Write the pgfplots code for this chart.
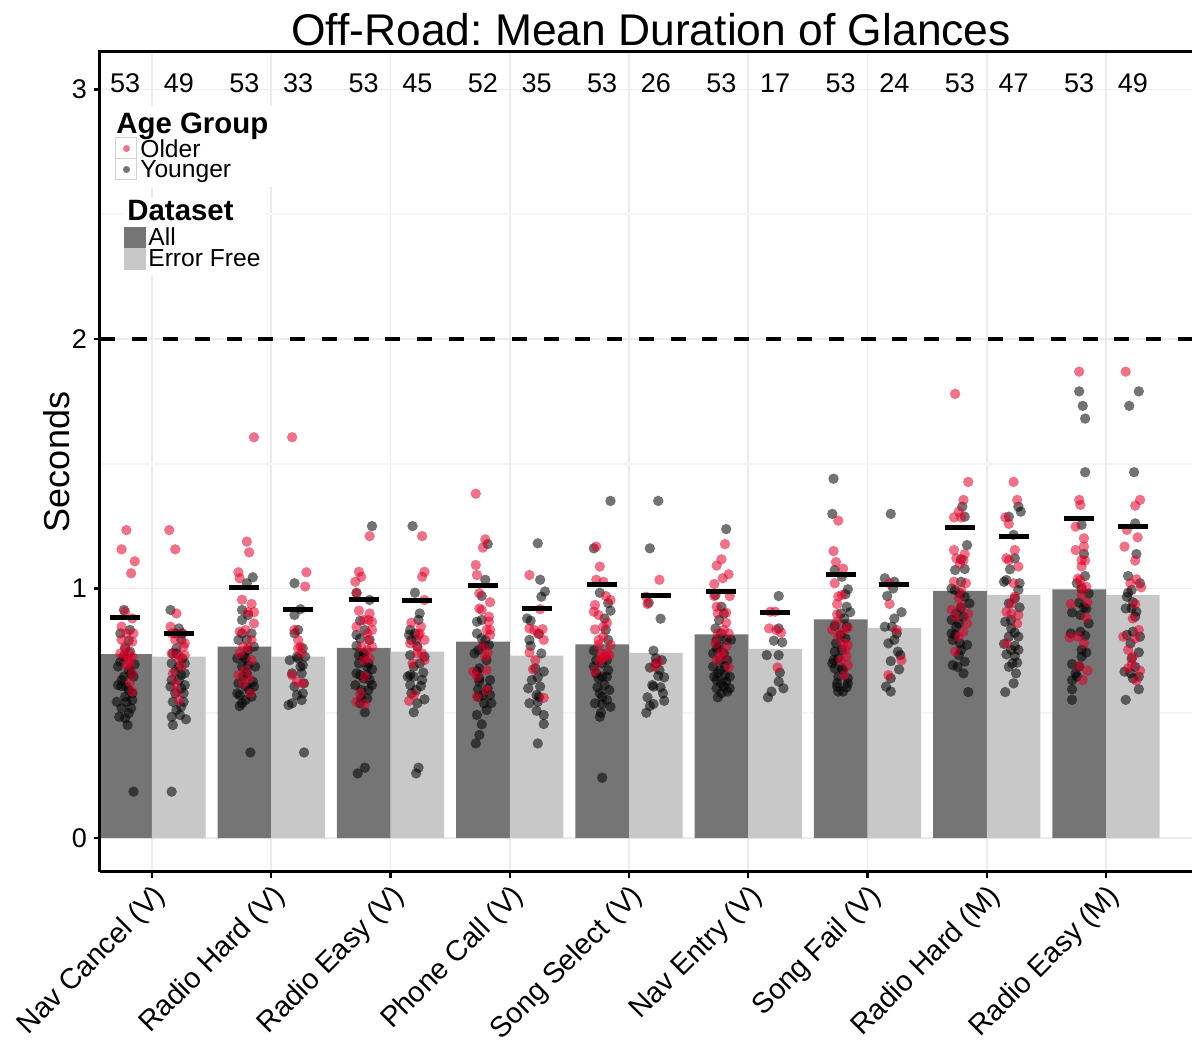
\documentclass[border=0pt]{standalone}
\usepackage{fontspec}
\setmainfont{Liberation Sans}
\usepackage{pgfplots}
\pgfplotsset{compat=1.18}
\definecolor{allbar}{HTML}{757575}
\definecolor{efbar}{HTML}{C8C8C8}
\definecolor{older}{RGB}{224,0,40}
\definecolor{gridmaj}{HTML}{EBEBEB}
\definecolor{gridmin}{HTML}{F5F5F5}
\frenchspacing
\begin{document}
\begin{tikzpicture}
\begin{axis}[
 name=ax, scale only axis, width=546pt, height=410pt,
 xmin=-0.436, xmax=8.721, ymin=-0.136, ymax=3.15,
 axis x line*=bottom, axis y line*=left,
 axis line style={line width=1.5pt,-},
 xtick={0,1,2,3,4,5,6,7,8},
 xticklabels={Nav Cancel (V),Radio Hard (V),Radio Easy (V),Phone Call (V),Song Select (V),Nav Entry (V),Song Fail (V),Radio Hard (M),Radio Easy (M)},
 ytick={0,1,2,3}, minor ytick={0.5,1.5,2.5},
 grid=both, major grid style={gridmaj,line width=0.8pt}, minor grid style={gridmin,line width=0.8pt},
 tick align=outside, major tick length=3pt, minor tick length=0pt,
 tick style={line width=1.2pt, black},
 /pgf/number format/assume math mode=true,
 yticklabel style={font=\fontsize{13.5}{16}\selectfont},
 xticklabel style={font=\fontsize{14.4}{17}\selectfont, rotate=45, anchor=north east, inner sep=1.5pt},
]
% bars
\addplot[ybar, bar width=0.45, bar shift=-0.225, fill=allbar, draw=none] coordinates {
(0,0.737) (1,0.767) (2,0.762) (3,0.787) (4,0.776) (5,0.816) (6,0.876) (7,0.991) (8,0.997)};
\addplot[ybar, bar width=0.45, bar shift=0.225, fill=efbar, draw=none] coordinates {
(0,0.727) (1,0.727) (2,0.747) (3,0.731) (4,0.741) (5,0.758) (6,0.842) (7,0.975) (8,0.975)};
% younger points
\addplot[only marks, draw=none, mark=*, mark size=2.6pt, mark options={fill=black, draw=black, draw opacity=0, fill opacity=0.55, line width=0pt}] coordinates {
(-0.235,0.914) (-0.195,0.791) (-0.185,0.747) (-0.265,0.707) (-0.145,0.696) (-0.175,0.660) (-0.285,0.613) (-0.255,0.609) (-0.195,0.593) (-0.225,0.566) (-0.165,0.553) (-0.215,0.546) (-0.255,0.520) (-0.175,0.520) (-0.275,0.486) (-0.225,0.480) (-0.205,0.453) (-0.155,0.186) (-0.265,0.82) (-0.225,0.76) (-0.195,0.673) (-0.235,0.647) (-0.255,0.633) (-0.215,0.607) (-0.165,0.58) (-0.235,0.727) (-0.285,0.687) (-0.195,0.5) (-0.295,0.546) (-0.155,0.647) (-0.185,0.834)
(0.155,0.914) (0.225,0.84) (0.245,0.794) (0.205,0.76) (0.165,0.70) (0.255,0.72) (0.225,0.687) (0.245,0.653) (0.165,0.633) (0.155,0.607) (0.275,0.613) (0.265,0.58) (0.195,0.58) (0.175,0.546) (0.265,0.546) (0.245,0.526) (0.205,0.513) (0.165,0.486) (0.285,0.476) (0.175,0.453) (0.165,0.186) (0.205,0.74) (0.275,0.66) (0.195,0.82) (0.255,0.82) (0.225,0.633) (0.175,0.74) (0.275,0.70) (0.195,0.667) (0.235,0.493) (0.245,0.6)
(0.845,1.045) (0.795,1.021) (0.755,0.914) (0.805,0.894) (0.755,0.82) (0.855,0.767) (0.805,0.753) (0.715,0.72) (0.785,0.72) (0.755,0.687) (0.805,0.693) (0.795,0.66) (0.725,0.62) (0.845,0.627) (0.785,0.607) (0.735,0.573) (0.835,0.566) (0.755,0.54) (0.785,0.553) (0.735,0.529) (0.825,0.343) (0.765,0.727) (0.835,0.82) (0.795,0.794) (0.725,0.794) (0.865,0.687) (0.765,0.647) (0.815,0.593) (0.715,0.58) (0.855,0.607) (0.755,0.874)
(1.195,1.021) (1.245,0.917) (1.195,0.894) (1.195,0.82) (1.265,0.76) (1.225,0.72) (1.265,0.693) (1.215,0.727) (1.245,0.687) (1.175,0.66) (1.255,0.66) (1.275,0.62) (1.215,0.573) (1.265,0.58) (1.145,0.533) (1.175,0.54) (1.275,0.343) (1.225,0.834) (1.155,0.713) (1.285,0.727) (1.195,0.607) (1.255,0.553)
(1.845,1.25) (1.715,0.983) (1.825,0.954) (1.745,0.871) (1.785,0.834) (1.715,0.814) (1.745,0.80) (1.825,0.794) (1.715,0.77) (1.735,0.733) (1.775,0.727) (1.805,0.687) (1.845,0.676) (1.745,0.653) (1.805,0.653) (1.775,0.64) (1.705,0.613) (1.845,0.613) (1.755,0.56) (1.805,0.56) (1.785,0.504) (1.725,0.259) (1.785,0.282) (1.775,0.74) (1.815,0.70) (1.735,0.70) (1.825,0.633) (1.715,0.66) (1.755,0.593) (1.815,0.593) (1.745,0.54)
(2.185,1.25) (2.205,0.983) (2.235,0.874) (2.165,0.834) (2.205,0.82) (2.155,0.814) (2.215,0.794) (2.175,0.794) (2.225,0.767) (2.165,0.733) (2.285,0.727) (2.195,0.687) (2.275,0.663) (2.165,0.653) (2.145,0.647) (2.195,0.647) (2.255,0.609) (2.165,0.613) (2.285,0.556) (2.195,0.504) (2.235,0.282) (2.215,0.259) (2.245,0.70) (2.265,0.633) (2.215,0.593) (2.245,0.90) (2.175,0.58) (2.225,0.54)
(2.815,1.178) (2.795,1.035) (2.765,0.97) (2.725,0.867) (2.765,0.874) (2.725,0.82) (2.765,0.80) (2.775,0.767) (2.825,0.774) (2.745,0.68) (2.725,0.667) (2.745,0.64) (2.735,0.596) (2.815,0.60) (2.835,0.573) (2.775,0.573) (2.735,0.566) (2.845,0.54) (2.805,0.513) (2.725,0.493) (2.765,0.456) (2.745,0.413) (2.715,0.379) (2.795,0.794) (2.805,0.713) (2.705,0.74) (2.835,0.633) (2.745,0.627) (2.785,0.54) (2.735,0.753)
(3.235,1.181) (3.255,1.035) (3.295,0.988) (3.265,0.967) (3.145,0.88) (3.175,0.871) (3.245,0.818) (3.165,0.794) (3.175,0.77) (3.215,0.68) (3.285,0.667) (3.235,0.644) (3.155,0.60) (3.225,0.573) (3.245,0.566) (3.165,0.54) (3.235,0.546) (3.225,0.51) (3.285,0.493) (3.285,0.457) (3.235,0.379) (3.265,0.74) (3.185,0.633) (3.255,0.607)
(3.705,1.161) (3.845,1.351) (3.755,0.983) (3.825,0.941) (3.845,0.911) (3.795,0.88) (3.805,0.834) (3.705,0.751) (3.775,0.70) (3.705,0.687) (3.815,0.647) (3.745,0.64) (3.795,0.613) (3.735,0.604) (3.775,0.566) (3.715,0.54) (3.775,0.537) (3.845,0.526) (3.765,0.502) (3.775,0.242) (3.815,0.713) (3.825,0.673) (3.725,0.66) (3.775,0.647) (3.835,0.593) (3.755,0.58) (3.815,0.553) (3.725,0.713) (3.825,0.794) (3.755,0.486)
(4.175,1.161) (4.245,1.351) (4.165,0.943) (4.265,0.879) (4.205,0.751) (4.275,0.713) (4.225,0.72) (4.175,0.683) (4.295,0.644) (4.245,0.65) (4.195,0.613) (4.265,0.604) (4.155,0.564) (4.295,0.55) (4.205,0.537) (4.175,0.529) (4.145,0.502) (4.225,0.70) (4.205,0.607) (4.255,0.673) (4.285,0.58)
(4.815,1.238) (4.725,0.974) (4.775,0.927) (4.755,0.874) (4.725,0.84) (4.855,0.794) (4.735,0.794) (4.735,0.76) (4.705,0.74) (4.825,0.713) (4.705,0.687) (4.765,0.673) (4.805,0.653) (4.735,0.633) (4.815,0.627) (4.775,0.62) (4.845,0.60) (4.735,0.60) (4.825,0.587) (4.745,0.564) (4.775,0.82) (4.795,0.74) (4.765,0.713) (4.805,0.687) (4.745,0.66) (4.795,0.607) (4.755,0.767) (4.715,0.647) (4.845,0.647) (4.795,0.90) (4.815,0.794) (4.775,0.58)
(5.255,0.97) (5.255,0.84) (5.215,0.791) (5.285,0.784) (5.155,0.733) (5.255,0.733) (5.265,0.663) (5.255,0.627) (5.295,0.60) (5.195,0.587) (5.165,0.564)
(5.715,1.44) (5.705,1.299) (5.725,1.074) (5.785,1.047) (5.835,0.997) (5.815,0.977) (5.855,0.905) (5.805,0.88) (5.825,0.847) (5.725,0.85) (5.775,0.814) (5.725,0.747) (5.755,0.72) (5.725,0.68) (5.785,0.68) (5.755,0.587) (5.795,0.587) (5.825,0.604) (5.745,0.62) (5.835,0.64) (5.735,0.78) (5.815,0.80) (5.785,0.754) (5.715,0.713) (5.795,0.673) (5.755,0.647) (5.825,0.927) (5.775,0.90) (5.745,0.607) (5.835,0.62) (5.705,0.70)
(6.195,1.299) (6.145,1.041) (6.225,1.027) (6.215,1.0) (6.165,0.97) (6.285,0.905) (6.225,0.88) (6.145,0.847) (6.205,0.847) (6.245,0.82) (6.255,0.747) (6.195,0.709) (6.265,0.676) (6.195,0.64) (6.155,0.607) (6.195,0.587) (6.275,0.733) (6.225,0.794) (6.175,0.78)
(6.795,1.328) (6.815,1.288) (6.835,1.174) (6.785,1.117) (6.815,1.078) (6.785,1.027) (6.705,1.0) (6.735,0.994) (6.855,0.94) (6.785,0.924) (6.765,0.86) (6.705,0.82) (6.735,0.814) (6.835,0.774) (6.775,0.78) (6.765,0.733) (6.815,0.707) (6.715,0.693) (6.805,0.66) (6.845,0.585) (6.745,0.847) (6.775,0.98) (6.745,0.90) (6.805,0.887) (6.715,0.794) (6.785,0.754) (6.815,0.967) (6.735,1.074) (6.755,0.686) (6.705,0.874)
(7.265,1.328) (7.285,1.308) (7.185,1.288) (7.225,1.215) (7.235,1.121) (7.195,1.077) (7.145,1.027) (7.275,1.021) (7.265,0.994) (7.235,0.96) (7.275,0.924) (7.155,0.867) (7.205,0.84) (7.235,0.823) (7.145,0.778) (7.235,0.77) (7.165,0.736) (7.235,0.729) (7.255,0.703) (7.215,0.70) (7.245,0.66) (7.155,0.585) (7.185,0.94) (7.205,0.874) (7.265,0.807) (7.185,0.807) (7.205,0.754) (7.265,0.754) (7.185,0.686) (7.225,0.62) (7.165,1.034)
(7.775,1.79) (7.805,1.732) (7.825,1.681) (7.825,1.466) (7.795,1.255) (7.815,1.138) (7.825,1.05) (7.795,0.999) (7.855,0.98) (7.775,0.943) (7.815,0.925) (7.835,0.92) (7.715,0.904) (7.785,0.894) (7.705,0.82) (7.785,0.827) (7.825,0.811) (7.835,0.744) (7.795,0.727) (7.715,0.697) (7.775,0.687) (7.745,0.66) (7.715,0.633) (7.715,0.596) (7.715,0.554) (7.755,0.647) (7.755,1.021) (7.855,0.86) (7.795,0.754)
(8.275,1.79) (8.195,1.732) (8.235,1.466) (8.245,1.261) (8.255,1.138) (8.185,1.05) (8.215,0.994) (8.185,0.983) (8.225,0.945) (8.165,0.92) (8.215,0.92) (8.255,0.907) (8.225,0.827) (8.275,0.744) (8.215,0.72) (8.155,0.667) (8.205,0.66) (8.225,0.64) (8.275,0.596) (8.165,0.554) (8.245,0.887) (8.175,0.814) (8.285,1.021) (8.205,0.78) (8.245,0.686) (8.275,0.647) (8.175,0.967) (8.285,0.807)
};
% older points
\addplot[only marks, draw=none, mark=*, mark size=2.6pt, mark options={fill=older, draw=older, draw opacity=0, fill opacity=0.55, line width=0pt}] coordinates {
(-0.215,1.234) (-0.255,1.157) (-0.145,1.109) (-0.175,1.061) (-0.225,0.906) (-0.165,0.880) (-0.255,0.847) (-0.215,0.820) (-0.255,0.794) (-0.165,0.787) (-0.195,0.740) (-0.235,0.733) (-0.165,0.727) (-0.215,0.693) (-0.165,0.660) (-0.185,0.623) (-0.165,0.587) (-0.195,0.713) (-0.225,0.767) (-0.185,0.70) (-0.155,0.82) (-0.265,0.74)
(0.145,1.234) (0.195,1.157) (0.205,0.90) (0.155,0.847) (0.245,0.82) (0.195,0.794) (0.275,0.78) (0.165,0.74) (0.225,0.733) (0.275,0.733) (0.195,0.62) (0.205,0.587) (0.175,0.66) (0.245,0.687) (0.225,0.713) (0.265,0.767) (0.225,0.553) (0.165,0.82)
(0.855,1.606) (0.795,1.188) (0.815,1.145) (0.725,1.065) (0.735,1.041) (0.755,0.955) (0.835,0.938) (0.855,0.905) (0.805,0.905) (0.785,0.834) (0.735,0.827) (0.835,0.794) (0.805,0.76) (0.725,0.653) (0.765,0.62) (0.815,0.64) (0.835,0.713) (0.825,0.58) (0.765,0.767) (0.855,0.86) (0.735,0.74) (0.785,0.673)
(1.175,1.606) (1.295,1.065) (1.285,1.008) (1.225,0.794) (1.225,0.76) (1.175,0.653) (1.215,0.627) (1.265,0.62) (1.255,0.74) (1.195,0.834) (1.245,0.767)
(1.825,1.21) (1.735,1.067) (1.755,1.047) (1.705,1.027) (1.715,0.981) (1.735,0.911) (1.775,0.874) (1.815,0.874) (1.845,0.867) (1.845,0.834) (1.715,0.847) (1.805,0.82) (1.815,0.794) (1.845,0.767) (1.825,0.72) (1.775,0.713) (1.745,0.58) (1.715,0.546) (1.785,0.537) (1.755,0.767) (1.805,0.753) (1.825,0.90) (1.785,0.647)
(2.265,1.21) (2.285,1.067) (2.265,1.047) (2.285,0.954) (2.175,0.863) (2.255,0.847) (2.235,0.814) (2.285,0.794) (2.225,0.767) (2.265,0.74) (2.285,0.713) (2.195,0.573) (2.155,0.55) (2.245,0.82) (2.225,0.74) (2.185,0.70) (2.165,0.78)
(2.715,1.38) (2.795,1.197) (2.775,1.164) (2.715,1.094) (2.725,1.054) (2.835,0.945) (2.745,0.92) (2.825,0.887) (2.825,0.867) (2.835,0.834) (2.805,0.834) (2.835,0.814) (2.815,0.743) (2.805,0.673) (2.695,0.667) (2.725,0.647) (2.725,0.566) (2.775,0.767) (2.745,0.981) (2.795,0.727) (2.765,0.914) (2.805,0.593)
(3.165,1.054) (3.255,0.917) (3.165,0.84) (3.205,0.834) (3.275,0.837) (3.165,0.744) (3.195,0.676) (3.285,0.562) (3.235,0.82) (3.215,0.713) (3.285,0.794)
(3.725,1.168) (3.755,1.088) (3.725,1.035) (3.785,1.027) (3.805,0.97) (3.715,0.934) (3.705,0.907) (3.745,0.894) (3.815,0.863) (3.715,0.836) (3.785,0.847) (3.845,0.774) (3.745,0.774) (3.775,0.72) (3.795,0.727) (3.835,0.733) (3.715,0.667) (3.755,0.707) (3.765,0.74) (3.815,0.74) (3.745,0.794) (3.785,0.807) (3.845,0.954)
(4.255,1.035) (4.145,0.967) (4.155,0.938) (4.245,0.707) (4.215,0.687)
(4.805,1.178) (4.775,1.117) (4.735,1.092) (4.835,1.057) (4.785,1.041) (4.715,1.018) (4.845,0.97) (4.715,0.97) (4.745,0.90) (4.815,0.903) (4.795,0.834) (4.745,0.82) (4.815,0.767) (4.795,0.727) (4.835,0.684) (4.725,0.78) (4.765,0.74) (4.735,0.927) (4.815,0.863) (4.835,0.82) (4.735,0.713)
(5.185,0.907) (5.225,0.907) (5.175,0.84) (5.235,0.834) (5.275,0.823) (5.245,0.684)
(5.755,1.272) (5.715,1.15) (5.735,1.106) (5.795,1.08) (5.725,1.021) (5.755,0.968) (5.785,0.974) (5.745,0.938) (5.745,0.897) (5.835,0.843) (5.705,0.834) (5.795,0.83) (5.835,0.774) (5.825,0.727) (5.835,0.692) (5.805,0.653) (5.755,0.807) (5.815,0.754) (5.775,0.713) (5.745,0.867) (5.795,0.78)
(6.185,1.021) (6.185,0.938) (6.175,0.653) (6.285,0.713) (6.245,0.834)
(6.735,1.78) (6.845,1.427) (6.805,1.355) (6.765,1.308) (6.725,1.285) (6.785,1.285) (6.725,1.154) (6.815,1.138) (6.745,1.121) (6.805,1.114) (6.725,1.027) (6.765,0.96) (6.785,0.927) (6.845,0.898) (6.745,0.887) (6.805,0.827) (6.735,0.747) (6.775,1.10) (6.785,0.994) (6.835,0.86) (6.705,0.914) (6.765,0.807) (6.825,1.021)
(7.225,1.427) (7.255,1.355) (7.155,1.285) (7.185,1.259) (7.235,1.154) (7.165,1.121) (7.185,1.114) (7.225,1.021) (7.235,0.968) (7.205,0.90) (7.265,0.894) (7.165,0.907) (7.205,0.94) (7.255,0.86) (7.165,0.78) (7.265,1.088)
(7.775,1.869) (7.775,1.355) (7.785,1.335) (7.745,1.248) (7.815,1.201) (7.815,1.168) (7.795,1.114) (7.825,1.112) (7.795,1.088) (7.785,1.034) (7.795,1.007) (7.835,1.007) (7.765,1.04) (7.705,0.938) (7.845,0.945) (7.835,0.884) (7.695,0.804) (7.765,0.807) (7.775,0.689) (7.845,0.671) (7.805,0.633) (7.795,0.974) (7.745,1.154) (7.815,0.78)
(8.165,1.869) (8.285,1.355) (8.245,1.332) (8.175,1.235) (8.265,1.205) (8.155,1.168) (8.245,1.112) (8.255,1.037) (8.295,1.005) (8.245,0.938) (8.225,0.88) (8.145,0.807) (8.245,0.80) (8.215,0.697) (8.185,0.68) (8.285,0.671) (8.255,0.631) (8.205,1.021) (8.275,0.834) (8.185,0.754) (8.225,0.727)
};
% means
\addplot[only marks, mark=-, mark size=7.5pt, mark options={line width=2.5pt, black}] coordinates {
(-0.225,0.883) (0.775,1.006) (1.775,0.957) (2.775,1.011) (3.775,1.017) (4.775,0.990) (5.775,1.057) (6.775,1.246) (7.775,1.279)
(0.225,0.820) (1.225,0.917) (2.225,0.953) (3.225,0.920) (4.225,0.971) (5.225,0.902) (6.225,1.018) (7.225,1.208) (8.225,1.248)};
% threshold
\addplot[black, line width=2pt, dash pattern=on 7.5pt off 8.35pt] coordinates {(-0.436,2) (8.721,2)};
% counts
\begin{scope}[every node/.style={font=\fontsize{13.5}{16}\selectfont, anchor=center, inner sep=0pt}]
\node at (axis cs:-0.225,3.026) {53}; \node at (axis cs:0.225,3.026) {49};
\node at (axis cs:0.775,3.026) {53}; \node at (axis cs:1.225,3.026) {33};
\node at (axis cs:1.775,3.026) {53}; \node at (axis cs:2.225,3.026) {45};
\node at (axis cs:2.775,3.026) {52}; \node at (axis cs:3.225,3.026) {35};
\node at (axis cs:3.775,3.026) {53}; \node at (axis cs:4.225,3.026) {26};
\node at (axis cs:4.775,3.026) {53}; \node at (axis cs:5.225,3.026) {17};
\node at (axis cs:5.775,3.026) {53}; \node at (axis cs:6.225,3.026) {24};
\node at (axis cs:6.775,3.026) {53}; \node at (axis cs:7.225,3.026) {47};
\node at (axis cs:7.775,3.026) {53}; \node at (axis cs:8.225,3.026) {49};
\end{scope}
\end{axis}
% frame lines
\draw[line width=1.5pt] (ax.south west) -- (ax.north west) -- (ax.north east);
\draw[line width=1.5pt] (ax.south west) -- (ax.south east);
% title and y label
\node[anchor=base, inner sep=0pt, font=\fontsize{22.2}{26}\selectfont] at ([xshift=2.5pt,yshift=3pt]ax.north) {Off-Road: Mean Duration of Glances};
\node[rotate=90, anchor=center, inner sep=0pt, font=\fontsize{18}{21}\selectfont] at ([xshift=-21.5pt]ax.west) {Seconds};
% legend
\begin{scope}[shift={(ax.north west)}]
\fill[white] (3.5pt,-27pt) rectangle (87.5pt,-67.5pt);
\fill[white] (12pt,-73pt) rectangle (83pt,-112pt);
\node[anchor=base west, inner sep=0pt, font=\bfseries\fontsize{14.7}{17}\selectfont] at (8pt,-41pt) {Age Group};
\draw[gray!35, line width=0.5pt] (8pt,-43pt) rectangle (18.5pt,-53.5pt);
\draw[gray!35, line width=0.5pt] (8pt,-53.5pt) rectangle (18.5pt,-64pt);
\fill[older, fill opacity=0.55] (13.25pt,-48.25pt) circle (1.75pt);
\fill[black, fill opacity=0.55] (13.25pt,-58.75pt) circle (1.75pt);
\node[anchor=base west, inner sep=0pt, font=\fontsize{12.3}{14}\selectfont] at (20pt,-53pt) {Older};
\node[anchor=base west, inner sep=0pt, font=\fontsize{12.3}{14}\selectfont] at (20pt,-63pt) {Younger};
\node[anchor=base west, inner sep=0pt, font=\bfseries\fontsize{14.7}{17}\selectfont] at (13.5pt,-84.5pt) {Dataset};
\fill[allbar] (12pt,-87.5pt) rectangle (23pt,-98pt);
\fill[efbar] (12pt,-98pt) rectangle (23pt,-109pt);
\node[anchor=base west, inner sep=0pt, font=\fontsize{12.3}{14}\selectfont] at (24pt,-97pt) {All};
\node[anchor=base west, inner sep=0pt, font=\fontsize{12.3}{14}\selectfont] at (24pt,-107.5pt) {Error Free};
\end{scope}
\pgfresetboundingbox
\path[use as bounding box] ([xshift=-50pt,yshift=-86pt]ax.south west) rectangle ([yshift=26pt]ax.north east);
\end{tikzpicture}
\end{document}
